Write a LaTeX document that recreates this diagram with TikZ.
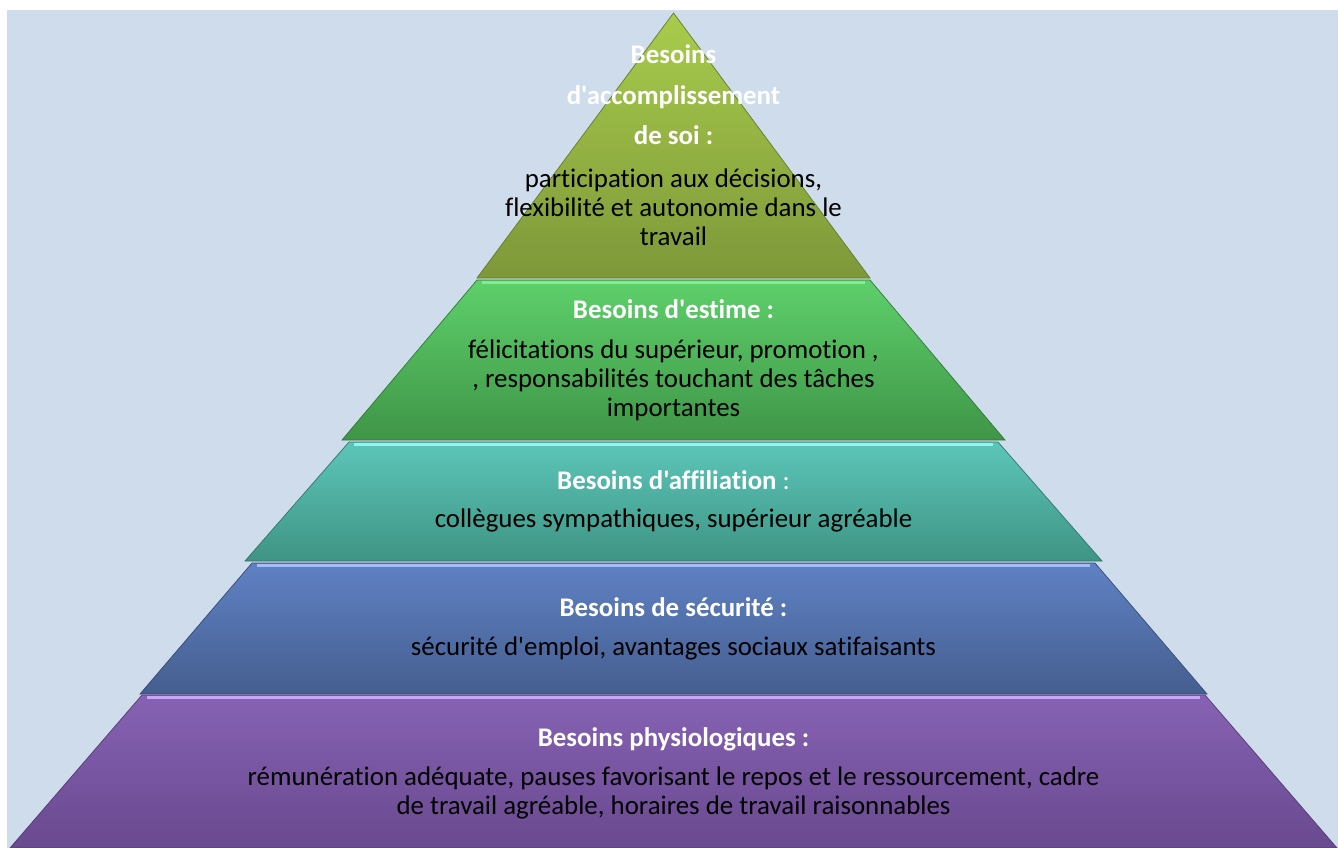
\documentclass[tikz,border=0pt]{standalone}
\usepackage{fontspec}
\setmainfont{Carlito}[Ligatures={TeXOff,NoCommon}]
\usepackage{tikz}
\usetikzlibrary{positioning}

\definecolor{bgblue}{HTML}{CFDCEB}
\definecolor{olivetop}{HTML}{A9CC4C}
\definecolor{olivebot}{HTML}{7D983A}
\definecolor{greentop}{HTML}{5ED06B}
\definecolor{greenbot}{HTML}{3F9547}
\definecolor{greenlite}{HTML}{86EC92}
\definecolor{tealtop}{HTML}{5CC6B9}
\definecolor{tealbot}{HTML}{3F9484}
\definecolor{teallite}{HTML}{92F6EE}
\definecolor{bluetop}{HTML}{5F81C4}
\definecolor{bluebot}{HTML}{455E8F}
\definecolor{bluelite}{HTML}{A3BEF2}
\definecolor{purpletop}{HTML}{8762B4}
\definecolor{purplebot}{HTML}{69498F}
\definecolor{purplelite}{HTML}{C9A6F3}

\begin{document}
\begin{tikzpicture}[x=0.02cm,y=-0.02cm,
  title/.style={text=white,font=\bfseries\fontsize{15.3}{23}\selectfont,align=center},
  body/.style={text=black,font=\fontsize{15.3}{16.5}\selectfont,align=center},
  rim/.style={draw=#1,line width=0.4pt},
  lite/.style={draw=#1,line width=1.6pt}]
	% Background
	\useasboundingbox (0,0) rectangle (1338,848);
	\fill[white] (0,0) rectangle (1338,848);
	\fill[bgblue] (7,10) rectangle (1338,848);
	
	% Corners
	\coordinate (apex) at (673.5,13);
	\coordinate (a1) at (477,278);  \coordinate (b1) at (870,278);
	\coordinate (a2) at (477,280);  \coordinate (b2) at (870,280);
	\coordinate (c2) at (342,440);  \coordinate (d2) at (1005,440);
	\coordinate (a3) at (349,442);  \coordinate (b3) at (998,442);
	\coordinate (c3) at (245,561);  \coordinate (d3) at (1102,561);
	\coordinate (a4) at (252,563);  \coordinate (b4) at (1095,563);
	\coordinate (c4) at (140,694);  \coordinate (d4) at (1207,694);
	\coordinate (a5) at (142,695);  \coordinate (b5) at (1205,695);
	\coordinate (c5) at (10,848);   \coordinate (d5) at (1337,848);
	
	% Levels
	\shade[top color=olivetop,bottom color=olivebot] (apex) -- (b1) -- (a1) -- cycle;
	\draw[rim=olivebot!80!black] (apex) -- (b1) -- (a1) -- cycle;
	
	\shade[top color=greentop,bottom color=greenbot] (a2) -- (b2) -- (d2) -- (c2) -- cycle;
	\draw[rim=greenbot!80!black] (a2) -- (b2) -- (d2) -- (c2) -- cycle;
	\draw[lite=greenlite] ([xshift=3pt,yshift=-1.4pt]a2) -- ([xshift=-3pt,yshift=-1.4pt]b2);
	
	\shade[top color=tealtop,bottom color=tealbot] (a3) -- (b3) -- (d3) -- (c3) -- cycle;
	\draw[rim=tealbot!80!black] (a3) -- (b3) -- (d3) -- (c3) -- cycle;
	\draw[lite=teallite] ([xshift=3pt,yshift=-1.4pt]a3) -- ([xshift=-3pt,yshift=-1.4pt]b3);
	
	\shade[top color=bluetop,bottom color=bluebot] (a4) -- (b4) -- (d4) -- (c4) -- cycle;
	\draw[rim=bluebot!80!black] (a4) -- (b4) -- (d4) -- (c4) -- cycle;
	\draw[lite=bluelite] ([xshift=3pt,yshift=-1.4pt]a4) -- ([xshift=-3pt,yshift=-1.4pt]b4);
	
	\shade[top color=purpletop,bottom color=purplebot] (a5) -- (b5) -- (d5) -- (c5) -- cycle;
	\draw[rim=purplebot!80!black] (a5) -- (b5) -- (d5) -- (c5) -- cycle;
	\draw[lite=purplelite] ([xshift=3pt,yshift=-1.4pt]a5) -- ([xshift=-3pt,yshift=-1.4pt]b5);
	
	% Texts
	\node[title] (t1) at (673.5,95) {Besoins\\d'accomplissement\\de soi :};
	\node[body] (s1) at (673.5,207) {participation aux décisions,\\flexibilité et autonomie dans le\\travail};
	
	\node[title] (t2) at (673.5,309) {Besoins d'estime :};
	\node[body] (s2) at (673.5,380) {félicitations du supérieur, promotion ,\\, responsabilités touchant des tâches\\importantes};
	
	\node[title] (t3) at (673.5,480) {Besoins d'affiliation \mdseries:};
	\node[body] (s3) at (673.5,520) {collègues sympathiques, supérieur agréable};
	
	\node[title] (t4) at (673.5,607) {Besoins de sécurité :};
	\node[body] (s4) at (673.5,648) {sécurité d'emploi, avantages sociaux satifaisants};
	
	\node[title] (t5) at (673.5,739) {Besoins physiologiques :};
	\node[body] (s5) at (673.5,792.5) {rémunération adéquate, pauses favorisant le repos et le ressourcement, cadre\\de travail agréable, horaires de travail raisonnables};
\end{tikzpicture}
\end{document}
